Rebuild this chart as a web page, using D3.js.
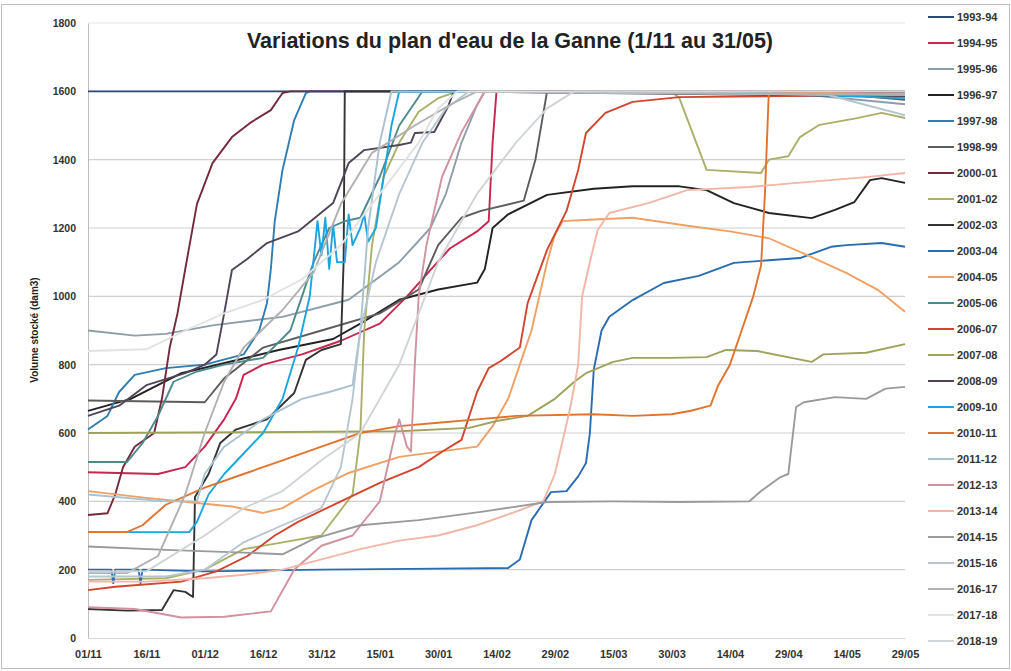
<!DOCTYPE html>
<html>
<head>
<meta charset="utf-8">
<script src="https://cdn.jsdelivr.net/npm/d3@7"></script>
<style>
  body { margin: 0; background: #fff; }
  svg { font-family: "Liberation Sans", Arial, sans-serif; }
</style>
</head>
<body>
<svg id="chart"></svg>
<script>
// Chart size
const width = 1011;
const height = 671;

// Axis labels (day 0 = 01/11, one tick every 15 days)
const tickDays = [0, 15, 30, 45, 60, 75, 90, 105, 120, 135, 150, 165, 180, 195, 210];
const tickLabels = ["01/11", "16/11", "01/12", "16/12", "31/12", "15/01", "30/01", "14/02",
                    "29/02", "15/03", "30/03", "14/04", "29/04", "14/05", "29/05"];
const yTicks = [0, 200, 400, 600, 800, 1000, 1200, 1400, 1600, 1800];

// Seasons, legend order
const seasons = ["1993-94", "1994-95", "1995-96", "1996-97", "1997-98", "1998-99", "2000-01",
                 "2001-02", "2002-03", "2003-04", "2004-05", "2005-06", "2006-07", "2007-08",
                 "2008-09", "2009-10", "2010-11", "2011-12", "2012-13", "2013-14", "2014-15",
                 "2015-16", "2016-17", "2017-18", "2018-19"];
const colors = ["#2b4a72", "#c8264e", "#8c9ea8", "#222222", "#2f7db2", "#5c5c5c", "#74293c",
                "#aab06a", "#333333", "#2a6cb0", "#f0a064", "#4c8a8c", "#d2452e", "#9ea35c",
                "#4f4556", "#1ba5e0", "#e0742e", "#a9c2d0", "#d0929e", "#f2b6a6", "#9a9a9a",
                "#b6c6ce", "#b0b0b0", "#e2e2e2", "#d0d4d6"];

// Volume readings [day, dam3] per season
const v9394 = [[0,1600],[210,1600]];
const v9495 = [[0,485],[18,480],[25,500],[30,560],[35,640],[38,700],[40,770],[45,800],[55,830],[65,870],
               [75,920],[82,1000],[88,1077],[93,1140],[100,1190],[103,1220],[104,1450],[105,1600],[210,1598]];
const v9596 = [[0,900],[12,885],[20,890],[32,915],[50,940],[67,990],[80,1100],[88,1200],[92,1300],
               [96,1450],[100,1560],[102,1600],[180,1595],[210,1562]];
const v9697 = [[0,665],[11,700],[24,775],[37,810],[49,843],[63,875],[70,920],[80,990],[90,1020],[100,1040],
               [102,1080],[104,1200],[108,1240],[118,1297],[130,1315],[140,1322],[152,1322],[159,1311],
               [166,1273],[175,1244],[186,1229],[192,1253],[197,1276],[201,1340],[204,1346],[210,1332]];
const v9798 = [[0,610],[5,650],[8,720],[12,770],[20,790],[30,800],[40,830],[44,900],[46,980],[47,1080],
               [48,1220],[50,1370],[53,1516],[56,1595],[57,1600],[210,1600]];
const v9899 = [[0,695],[30,690],[35,760],[45,850],[60,900],[75,950],[85,1020],[90,1150],[96,1230],
               [101,1250],[112,1280],[115,1400],[118,1600],[190,1595],[210,1575]];
const v0001 = [[0,360],[5,365],[7,420],[9,500],[12,560],[17,600],[19,700],[21,850],[23,950],[25,1080],
               [28,1270],[32,1390],[37,1466],[42,1510],[47,1545],[50,1595],[52,1600],[210,1600]];
const v0102 = [[0,170],[20,175],[30,200],[40,260],[50,280],[60,300],[68,420],[70,600],[71,900],[73,1150],
               [76,1350],[80,1450],[85,1540],[90,1580],[95,1600],[150,1600],[152,1580],[159,1370],
               [173,1361],[175,1400],[180,1410],[183,1466],[188,1502],[197,1520],[204,1537],[210,1522]];
const v0203 = [[0,85],[10,80],[19,82],[22,140],[25,135],[27,120],[27.5,413],[31,480],[34,571],[38,610],
               [46,640],[53,717],[56,814],[60,843],[65,860],[65.7,1100],[66,1600],[210,1600]];
const v0304 = [[0,200],[6,200],[6.5,160],[7,200],[13,200],[13.5,160],[14,200],[30,195],[60,200],[90,203],
               [108,205],[111,230],[114,345],[119,427],[123,430],[126,473],[128,512],[129,600],[130,785],
               [132,900],[134,940],[140,989],[148,1039],[157,1060],[166,1098],[183,1112],[191,1145],
               [195,1150],[204,1156],[210,1145]];
const v0405 = [[0,430],[15,410],[28,395],[37,385],[45,366],[50,380],[58,433],[67,483],[80,530],[100,560],
               [104,620],[108,700],[111,800],[114,900],[116,1000],[118,1100],[120,1180],[122,1220],
               [130,1225],[140,1230],[155,1205],[165,1190],[175,1170],[186,1115],[195,1068],[203,1019],[210,955]];
const v0506 = [[0,515],[10,515],[14,570],[18,650],[22,750],[28,780],[35,800],[45,820],[52,900],[55,1000],
               [58,1100],[62,1200],[66,1220],[70,1230],[75,1350],[80,1500],[86,1600],[210,1590]];
const v0607 = [[0,140],[7,150],[24,165],[33,195],[41,240],[48,300],[54,340],[65,400],[75,454],[85,500],
               [91,545],[96,580],[100,720],[103,790],[106,810],[111,850],[113,980],[118,1136],[123,1250],
               [126,1370],[128,1478],[133,1537],[140,1569],[152,1583],[210,1590]];
const v0708 = [[0,600],[40,602],[80,605],[98,615],[105,635],[113,650],[120,700],[125,750],[128,775],
               [135,808],[140,820],[150,820],[159,822],[164,843],[172,840],[186,808],[189,830],[200,835],[210,860]];
const v0809 = [[0,650],[8,680],[15,740],[25,775],[30,800],[33,830],[35,950],[37,1077],[41,1110],[46,1156],
               [54,1190],[63,1273],[67,1390],[71,1428],[80,1443],[83,1450],[84,1478],[89,1481],[92.5,1554],
               [94,1600],[210,1585]];
const v0910 = [[0,310],[26,310],[28,340],[31,420],[35,480],[40,540],[45,600],[50,700],[54,850],[57,1000],
               [59,1220],[60,1120],[61,1230],[62,1080],[63,1210],[64,1100],[66,1100],[67,1240],[68,1150],
               [70,1200],[71,1240],[72,1160],[74,1200],[76,1350],[78,1500],[80,1600],[170,1595],[210,1580]];
const v1011 = [[0,310],[10,310],[14,330],[20,390],[30,440],[40,480],[50,520],[60,560],[70,600],[80,620],
               [90,630],[100,640],[110,650],[130,655],[140,650],[150,655],[155,665],[160,680],[162,740],
               [165,800],[168,900],[171,1000],[173,1090],[174,1300],[175,1600],[210,1590]];
const v1112 = [[0,420],[20,400],[28,400],[30,480],[35,560],[45,640],[55,700],[62,720],[68,740],[70,900],
               [72,1200],[75,1450],[78,1600],[210,1590]];
const v1213 = [[0,90],[12,85],[24,60],[35,62],[47,78],[53,200],[60,270],[68,300],[75,400],[79,600],
               [80,640],[82,560],[83,545],[84,800],[85,1000],[87,1150],[91,1350],[96,1480],[100,1560],
               [102,1600],[210,1600]];
const v1314 = [[0,165],[15,165],[30,175],[40,185],[50,200],[60,230],[70,260],[80,285],[90,300],[100,330],
               [110,370],[117,400],[120,480],[124,676],[126,800],[127,1000],[129,1100],[131,1194],[134,1244],
               [144,1273],[154,1311],[170,1320],[180,1330],[200,1349],[210,1361]];
const v1415 = [[0,268],[20,258],[40,250],[50,245],[58,290],[70,330],[85,345],[101,369],[118,398],[135,400],
               [152,398],[170,400],[173,430],[178,471],[180,480],[182,676],[184,690],[192,705],[200,700],
               [205,730],[210,735]];
const v1516 = [[0,180],[20,180],[30,200],[40,280],[50,330],[60,380],[65,500],[68,700],[70,900],[74,1100],
               [80,1300],[86,1450],[92,1550],[98,1600],[190,1590],[210,1530]];
const v1617 = [[0,190],[10,190],[18,240],[25,420],[30,600],[35,750],[40,850],[50,960],[58,1070],[65,1270],
               [73,1420],[84,1500],[93,1560],[100,1600],[210,1590]];
const v1718 = [[0,840],[15,845],[25,900],[35,950],[45,990],[55,1050],[65,1150],[75,1300],[85,1450],
               [90,1550],[95,1600],[210,1600]];
const v1819 = [[0,195],[15,195],[20,230],[30,300],[40,380],[50,430],[60,520],[70,600],[80,800],[90,1100],
               [100,1300],[110,1450],[118,1550],[125,1600],[210,1600]];

const volumes = [v9394, v9495, v9596, v9697, v9798, v9899, v0001, v0102, v0203, v0304, v0405, v0506, v0607,
                 v0708, v0809, v0910, v1011, v1112, v1213, v1314, v1415, v1516, v1617, v1718, v1819];

const svg = d3.select("#chart")
    .attr("width", width)
    .attr("height", height);

// Frame
svg.append("rect")
    .attr("x", 1.5).attr("y", 4.5)
    .attr("width", width - 3).attr("height", height - 7)
    .attr("fill", "#fff")
    .attr("stroke", "#bdbdbd");

// Scales
const x = d3.scaleLinear().domain([0, 210]).range([88, 905]);
const y = d3.scaleLinear().domain([0, 1800]).range([638, 23]);

// Gridlines
svg.append("g")
    .selectAll("line")
    .data(yTicks.filter(d => d > 0))
    .join("line")
    .attr("x1", x(0)).attr("x2", x(210))
    .attr("y1", d => y(d)).attr("y2", d => y(d))
    .attr("stroke", d => d === 1800 ? "#e6e6e6" : "#cfcfcf")
    .attr("stroke-width", 1.2);

// Y axis
const yAxis = svg.append("g")
    .attr("transform", `translate(${x(0)},0)`)
    .call(d3.axisLeft(y).tickValues(yTicks).tickSize(0).tickPadding(12).tickFormat(d3.format("d")));
yAxis.select(".domain").attr("stroke", "#bdbdbd");
yAxis.selectAll("text")
    .attr("font-size", 10.5).attr("font-weight", "bold").attr("fill", "#333");

// X axis
const xAxis = svg.append("g")
    .attr("transform", `translate(0,${y(0)})`)
    .call(d3.axisBottom(x).tickValues(tickDays).tickSize(0).tickPadding(12)
        .tickFormat((d, i) => tickLabels[i]));
xAxis.select(".domain").attr("stroke", "#d6d6d6");
xAxis.selectAll("text")
    .attr("font-size", 11).attr("font-weight", "bold").attr("fill", "#333");

// Lines
const line = d3.line()
    .x(d => x(d[0]))
    .y(d => y(d[1]));

svg.append("g")
    .selectAll("path")
    .data(volumes)
    .join("path")
    .attr("d", line)
    .attr("fill", "none")
    .attr("stroke", (d, i) => colors[i])
    .attr("stroke-width", 1.9)
    .attr("stroke-linejoin", "round");

// Title
svg.append("text")
    .attr("x", 510).attr("y", 48)
    .attr("text-anchor", "middle")
    .attr("font-size", 21.5).attr("font-weight", "bold").attr("fill", "#222")
    .text("Variations du plan d'eau de la Ganne (1/11 au 31/05)");

// Y axis title
svg.append("text")
    .attr("transform", "translate(38,330) rotate(-90)")
    .attr("text-anchor", "middle")
    .attr("font-size", 10).attr("font-weight", "bold").attr("fill", "#222")
    .text("Volume stocké (dam3)");

// Legend
const legend = svg.append("g")
    .selectAll("g")
    .data(seasons)
    .join("g")
    .attr("transform", (d, i) => `translate(928,${17 + i * 26})`);

legend.append("line")
    .attr("x1", 0).attr("x2", 26)
    .attr("stroke", (d, i) => colors[i])
    .attr("stroke-width", 2);

legend.append("text")
    .attr("x", 29).attr("dy", "0.35em")
    .attr("font-size", 11).attr("font-weight", "bold").attr("fill", "#333")
    .text(d => d);
</script>
</body>
</html>
